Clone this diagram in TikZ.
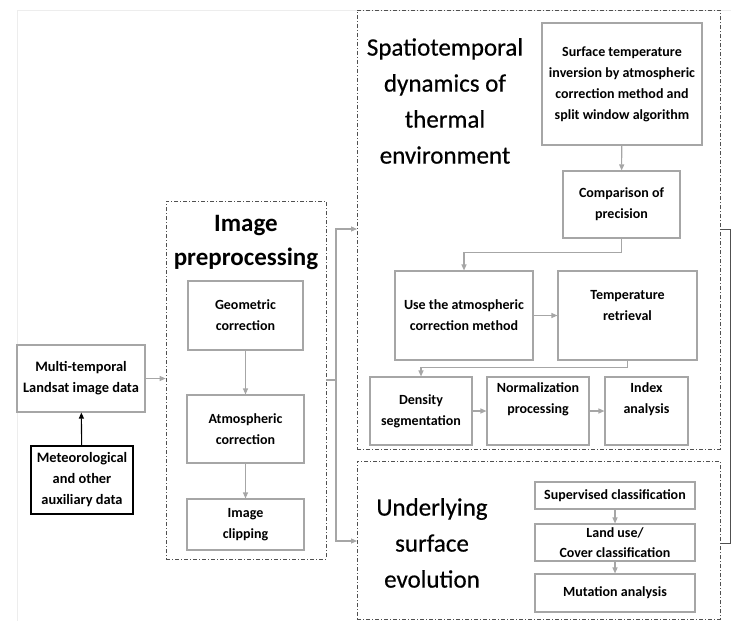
\documentclass[tikz,border=0pt]{standalone}
\usepackage{fontspec}
\setmainfont{Carlito}
\usetikzlibrary{arrows.meta}
\definecolor{boxgray}{HTML}{A6A6A6}
\definecolor{framegray}{HTML}{505050}
\definecolor{paper}{HTML}{EDEDED}

\begin{document}
\begin{tikzpicture}[x=1pt, y=-1pt,
    procbox/.style={draw=boxgray, line width=1.1pt, align=center, inner sep=0pt,
      font=\fontsize{14}{21}\selectfont\bfseries},
    groupbox/.style={draw=framegray, line width=0.6pt, inner sep=0pt,
      dash pattern=on 4pt off 2pt on 1pt off 2pt},
    heading/.style={align=center, font=\fontsize{25}{36}\selectfont\addfontfeature{FakeBold=0.5}},
    flow/.style={draw=boxgray, line width=1.1pt, -{Triangle[length=6pt,width=5pt]}},
  ]
    \useasboundingbox (0,0) rectangle (731,621);
    \draw[paper] (17,621) |- (731,10);

    % input data
    \node[procbox, font=\fontsize{14.4}{21}\selectfont\bfseries,
      minimum width=128, minimum height=67] (multi) at (81,378.5)
      {Multi-temporal\\Landsat image data};
    \node[procbox, draw=black, line width=1.5pt, font=\fontsize{14.4}{21}\selectfont\bfseries,
      minimum width=102, minimum height=68] (meteo) at (82,480)
      {Meteorological\\and other\\auxiliary data};
    \draw[line width=1.1pt, -{Triangle[length=6pt,width=5pt]}] (meteo) -- (multi);

    % image preprocessing
    \node[groupbox, minimum width=160, minimum height=358] (prep) at (246,380) {};
    \node[heading, font=\fontsize{25}{34}\selectfont\bfseries] (preptitle) at (246,243)
      {Image\\preprocessing};
    \node[procbox, minimum width=115, minimum height=69] (geo) at (245.5,315.5)
      {Geometric\\correction};
    \node[procbox, minimum width=117, minimum height=68] (atmo) at (245.5,429)
      {Atmospheric\\correction};
    \node[procbox, minimum width=117, minimum height=51] (clip) at (245.5,524.5)
      {Image\\clipping};
    \draw[flow] (geo) -- (atmo);
    \draw[flow] (atmo) -- (clip);
    \draw[flow] (multi.east) -- (multi.east -| prep.west);

    % thermal environment
    \node[groupbox, minimum width=363, minimum height=439] (spat) at (538.5,229.5) {};
    \node[heading] (spattitle) at (445,101)
      {Spatiotemporal\\dynamics of\\thermal\\environment};
    \node[procbox, minimum width=160, minimum height=122] (surf) at (622,84)
      {Surface temperature\\inversion by atmospheric\\correction method and\\split window algorithm};
    \node[procbox, minimum width=117, minimum height=67] (comp) at (621.5,204.5)
      {Comparison of\\precision};
    \node[procbox, minimum width=138, minimum height=89] (usem) at (464,315.5)
      {Use the atmospheric\\correction method};
    \node[procbox, minimum width=139, minimum height=89] (tret) at (627.5,315.5)
      {Temperature\\retrieval\\~};
    \node[procbox, minimum width=102, minimum height=68] (dens) at (421,411)
      {Density\\segmentation};
    \node[procbox, minimum width=102, minimum height=68] (norm) at (538,411)
      {Normalization\\processing\\[4pt]};
    \node[procbox, minimum width=83, minimum height=68] (index) at (646.5,411)
      {Index\\analysis\\[4pt]};
    \draw[flow] (surf) -- (comp);
    \draw[flow] (comp.south) -- ++(0,14) -| (usem.north);
    \draw[flow] (usem) -- (tret);
    \draw[flow] (tret.south) -- ++(0,7) -| (dens.north);
    \draw[flow] (dens) -- (norm);
    \draw[flow] (norm) -- (index);

    % underlying surface
    \node[groupbox, minimum width=363, minimum height=158] (under) at (538.5,540) {};
    \node[heading] (undertitle) at (432,543)
      {Underlying\\surface\\evolution};
    \node[procbox, minimum width=160, minimum height=27] (sup) at (615,495.5)
      {Supervised classification};
    \node[procbox, minimum width=160, minimum height=37, font=\fontsize{14}{20}\selectfont\bfseries]
      (land) at (615,542.5) {Land use/\\Cover classification};
    \node[procbox, minimum width=160, minimum height=38] (mut) at (615,593)
      {Mutation analysis};
    \draw[flow] (sup) -- (land);
    \draw[flow] (land) -- (mut);

    % split to both branches
    \coordinate (fork) at (336,380);
    \coordinate (spatin) at (357,229);
    \coordinate (underin) at (357,541);
    \draw[boxgray, line width=1.1pt] (prep.east) -- (fork);
    \draw[flow] (fork) |- (spatin);
    \draw[flow] (fork) |- (underin);

    % bracket on the right
    \coordinate (brtop) at (720,229);
    \coordinate (brbot) at (720,543);
    \draw[framegray, line width=1pt] (brtop) -- ++(10,0) |- (brbot);
\end{tikzpicture}
\end{document}
